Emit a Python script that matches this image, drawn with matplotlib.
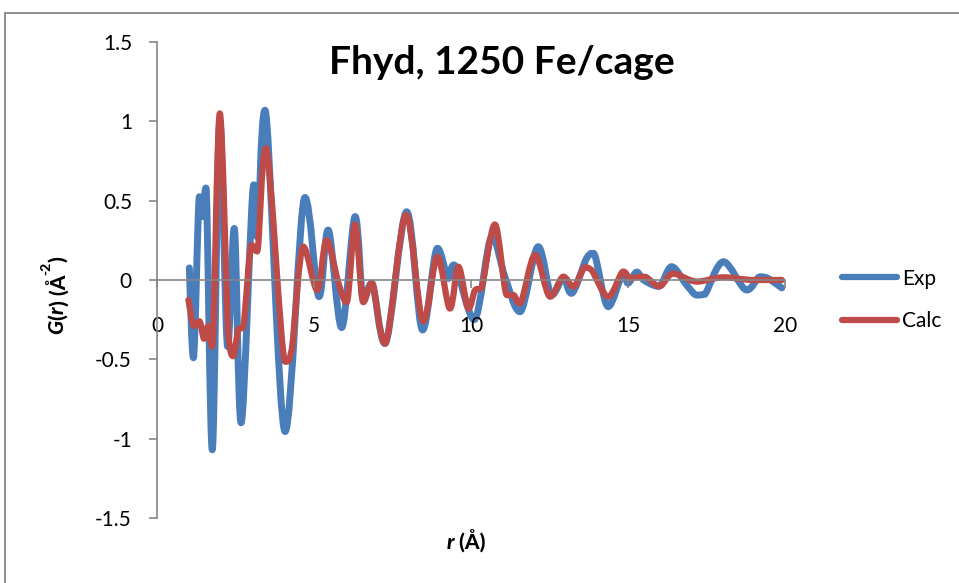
import numpy as np
import matplotlib
matplotlib.use('Agg')
import matplotlib.pyplot as plt
from matplotlib.path import Path
from matplotlib.patches import PathPatch, Rectangle
from matplotlib.lines import Line2D

plt.rcParams['font.family'] = ['Lato', 'DejaVu Sans']

# values (peaks, valleys and shoulders)
exp_r = [1.03, 1.16, 1.35, 1.45, 1.56, 1.76, 2.0, 2.25, 2.46, 2.68, 3.08, 3.2, 3.44,
         4.08, 4.71, 5.16, 5.45, 5.88, 6.31, 6.57, 6.84, 7.26, 7.95, 8.46, 8.93, 9.28,
         9.46, 10.1, 10.66, 11.08, 11.56, 12.14, 12.57, 12.94, 13.2, 13.68, 13.9, 14.37,
         14.85, 15.0, 15.28, 15.5, 15.97, 16.39, 16.86, 17.19, 17.45, 18.04, 18.78, 19.2,
         19.46, 19.9]
exp_g = [0.076, -0.49, 0.525, 0.40, 0.58, -1.07, 1.0, -0.42, 0.325, -0.90, 0.60, 0.27, 1.07,
         -0.955, 0.52, -0.105, 0.315, -0.30, 0.40, -0.126, -0.02, -0.40, 0.43, -0.315, 0.20, 0.01,
         0.095, -0.25, 0.27, 0.02, -0.20, 0.21, -0.095, 0.01, -0.084, 0.137, 0.168, -0.168,
         0.04, -0.02, 0.05, 0.0, -0.04, 0.084, -0.03, -0.095, -0.09, 0.115, -0.063, 0.02,
         0.01, -0.05]

calc_r = [1.0, 1.18, 1.35, 1.5, 1.63, 1.76, 2.0, 2.27, 2.43, 2.59, 2.75, 3.01, 3.19, 3.47,
          4.08, 4.29, 4.66, 5.1, 5.40, 5.78, 6.04, 6.31, 6.57, 6.84, 7.26, 7.93, 8.48, 8.93,
          9.33, 9.6, 9.92, 10.13, 10.34, 10.76, 11.14, 11.35, 11.56, 12.04, 12.52, 12.94,
          13.26, 13.63, 13.84, 14.37, 14.85, 15.06, 15.38, 15.54, 16.0, 16.44, 17.2, 18.04,
          19.0, 19.9]
calc_g = [-0.126, -0.29, -0.26, -0.37, -0.29, -0.42, 1.05, -0.34, -0.48, -0.31, -0.30, 0.22,
          0.18, 0.83, -0.515, -0.44, 0.21, -0.063, 0.25, -0.02, -0.14, 0.35, -0.14, -0.02,
          -0.40, 0.41, -0.26, 0.147, -0.18, 0.084, -0.18, -0.063, -0.05, 0.35, -0.095, -0.095,
          -0.147, 0.158, -0.105, 0.021, -0.042, 0.08, 0.063, -0.105, 0.053, 0.01, 0.02, 0.02,
          -0.04, 0.04, -0.01, 0.017, 0.0, 0.0]

series_names = ['Exp', 'Calc']
series_colors = ['#4a7ebb', '#be4b48']

x_ticks = [0, 5, 10, 15, 20]
y_ticks = [-1.5, -1, -0.5, 0, 0.5, 1, 1.5]
y_tick_labels = ['-1.5', '-1', '-0.5', '0', '0.5', '1', '1.5']


def smooth_path(x, y):
    # smoothed line like Excel: cubic bezier through every point,
    # flat at peaks/valleys and no overshoot between points
    pts = np.column_stack([x, y]).astype(float)
    n = len(pts)
    tang = np.zeros_like(pts)
    for i in range(n):
        p0 = pts[max(i - 1, 0)]
        p2 = pts[min(i + 1, n - 1)]
        tang[i] = (p2 - p0) / 6
        if 0 < i < n - 1:
            dl = pts[i, 1] - pts[i - 1, 1]
            dr = pts[i + 1, 1] - pts[i, 1]
            if dl * dr <= 0:
                tang[i, 1] = 0
    verts = [pts[0]]
    codes = [Path.MOVETO]
    for i in range(n - 1):
        p1, p2 = pts[i], pts[i + 1]
        c1 = p1 + tang[i]
        c2 = p2 - tang[i + 1]
        lo, hi = min(p1[1], p2[1]), max(p1[1], p2[1])
        c1[1] = np.clip(c1[1], lo, hi)
        c2[1] = np.clip(c2[1], lo, hi)
        verts += [c1, c2, p2]
        codes += [Path.CURVE4] * 3
    return Path(verts, codes)


fig = plt.figure(figsize=(9.59, 5.83), dpi=100)
ax = fig.add_axes([157 / 959, 65 / 583, 628 / 959, 476 / 583])

grey = '#868686'
ax.add_patch(PathPatch(smooth_path(exp_r, exp_g), fill=False, ec=series_colors[0],
                       lw=5, capstyle='round', joinstyle='round'))
ax.add_patch(PathPatch(smooth_path(calc_r, calc_g), fill=False, ec=series_colors[1],
                       lw=4.5, capstyle='round', joinstyle='round'))

ax.set_xlim(0, 20)
ax.set_ylim(-1.5, 1.5)
ax.set_xticks(x_ticks)
ax.set_xticklabels([str(t) for t in x_ticks])
ax.set_yticks(y_ticks)
ax.set_yticklabels(y_tick_labels)

ax.spines['top'].set_visible(False)
ax.spines['right'].set_visible(False)
ax.spines['bottom'].set_position(('data', 0))
for s in ['left', 'bottom']:
    ax.spines[s].set_color(grey)
    ax.spines[s].set_linewidth(1.2)
ax.tick_params(direction='out', length=6, width=1.2, color=grey, labelsize=15)
ax.tick_params(axis='x', pad=20)
ax.tick_params(axis='y', pad=12)

handles = [Line2D([], [], color=c, lw=4.5, solid_capstyle='round') for c in series_colors]
ax.legend(handles, series_names, loc='center left', bbox_to_anchor=(832 / 959, 1 - 300 / 583),
          bbox_transform=fig.transFigure, frameon=False, fontsize=15, borderpad=0,
          handlelength=2.6, handletextpad=0.25, labelspacing=1.1)

fig.text(502 / 959, 1 - 63 / 583, 'Fhyd, 1250 Fe/cage', ha='center', va='center',
         fontsize=28, fontweight='bold')

# x label, built from pieces: bold italic r, then bold (Å)
lab_w = 'black'
xl1 = fig.text(447 / 959, 1 - 552 / 583, 'r', fontsize=15, fontweight=lab_w,
               style='italic', ha='left', va='bottom')
ax.annotate(' (Å)', xy=(1, 0), xycoords=xl1, ha='left', va='bottom',
            fontsize=15, fontweight=lab_w)

# y label, rotated, built from pieces: G(r) (Å^-2)
kw = dict(rotation=90, ha='center', va='bottom', fontsize=15, fontweight=lab_w)
yl1 = fig.text(57 / 959, 1 - 334 / 583, 'G', style='italic', **kw)
yl2 = ax.annotate('(', xy=(0.5, 1), xycoords=yl1, **kw)
yl3 = ax.annotate('r', xy=(0.5, 1), xycoords=yl2, style='italic', **kw)
yl4 = ax.annotate(') (Å', xy=(0.5, 1), xycoords=yl3, **kw)
yl5 = ax.annotate('-2', xy=(0.3, 1.0), xycoords=yl4, rotation=90, ha='right', va='bottom',
                  fontsize=10, fontweight=lab_w)
ax.annotate(')', xy=(0.5, 0.98), xycoords=(yl4, yl5), **kw)

# chart border, cut by the image edge at right and bottom
fig.add_artist(Rectangle((5 / 959, -0.1), 1.2, 1.1 - 13 / 583, transform=fig.transFigure,
                         fill=False, ec=grey, lw=1.3))

fig.savefig('out.png', dpi=100)
